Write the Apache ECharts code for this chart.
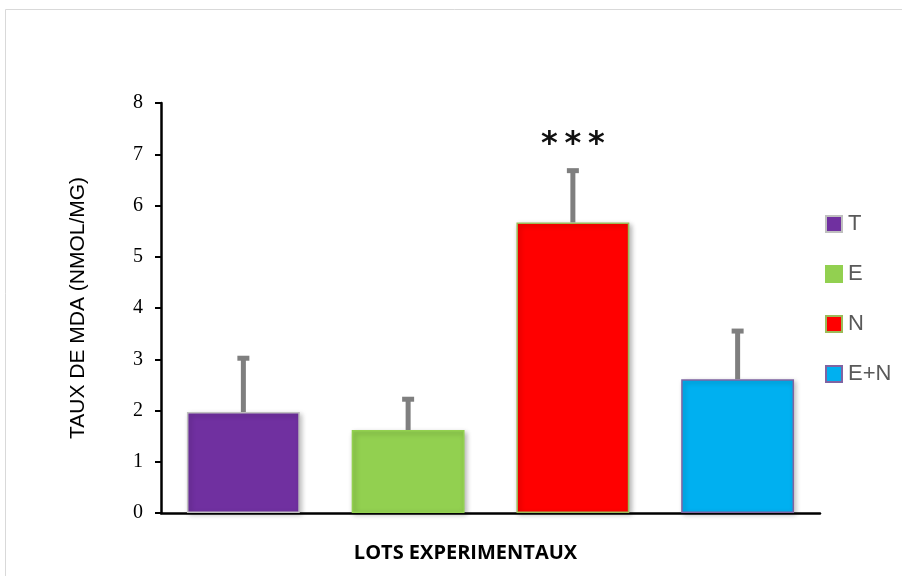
<!DOCTYPE html>
<html>
<head>
<meta charset="utf-8">
<script src="https://cdn.jsdelivr.net/npm/echarts@6/dist/echarts.min.js"></script>
<style>
  html, body { margin: 0; padding: 0; background: #fff; }
  #chart { width: 902px; height: 576px; }
</style>
</head>
<body>
<div id="chart"></div>
<script>
// Experimental groups and MDA levels (nmol/mg), mean ± SEM
var categories = ['T', 'E', 'N', 'E+N'];
var means = [1.97, 1.62, 5.67, 2.61];
var errors = [1.05, 0.60, 1.01, 0.94];
var significance = ['', '', '***', ''];
var yTicks = [0, 1, 2, 3, 4, 5, 6, 7, 8];

var fills = ['#7030a0', '#92d050', '#ff0000', '#00b0f0'];
var borders = ['#bfbfbf', '#92d050', '#9bbb59', '#8064a2'];

var chart = echarts.init(document.getElementById('chart'));

// One bar series per group so every group gets its own legend entry
var barSeries = categories.map(function (name, i) {
  return {
    name: name,
    type: 'bar',
    barWidth: '68.5%',
    barGap: '-100%',
    itemStyle: {
      color: fills[i],
      borderColor: borders[i],
      borderWidth: 1.5,
      shadowBlur: 5,
      shadowColor: 'rgba(0,0,0,0.28)',
      shadowOffsetX: 2,
      shadowOffsetY: 2
    },
    data: categories.map(function (c, j) { return j === i ? means[j] : null; })
  };
});

// Upper error whiskers with the significance marks above them
var errorSeries = {
  type: 'custom',
  name: 'error',
  z: 5,
  data: categories.map(function (c, i) { return [i, means[i], errors[i]]; }),
  encode: { x: 0, y: 1 },
  renderItem: function (params, api) {
    var idx = api.value(0);
    var base = api.coord([idx, api.value(1)]);
    var top = api.coord([idx, api.value(1) + api.value(2)]);
    var capHalf = 6;
    var children = [
      {
        type: 'line',
        shape: { x1: base[0], y1: base[1], x2: top[0], y2: top[1] },
        style: { stroke: '#7f7f7f', lineWidth: 5 }
      },
      {
        type: 'line',
        shape: { x1: top[0] - capHalf, y1: top[1], x2: top[0] + capHalf, y2: top[1] },
        style: { stroke: '#7f7f7f', lineWidth: 5 }
      }
    ];
    var marks = significance[idx].split('');
    var pitch = 23.5;
    marks.forEach(function (ch, k) {
      children.push({
        type: 'text',
        style: {
          text: ch,
          x: top[0] + (k - (marks.length - 1) / 2) * pitch,
          y: top[1] - 26,
          align: 'center',
          verticalAlign: 'middle',
          fontFamily: 'DejaVu Sans',
          fontWeight: 'bold',
          fontSize: 32,
          fill: '#111'
        }
      });
    });
    return { type: 'group', children: children };
  }
};

chart.setOption({
  animation: false,
  backgroundColor: '#fff',
  graphic: [{
    type: 'rect',
    shape: { x: 5.5, y: 9.5, width: 1000, height: 1000 },
    style: { fill: 'none', stroke: '#d9d9d9', lineWidth: 1 },
    silent: true
  }],
  grid: { left: 161, right: 82, top: 103, bottom: 63 },
  legend: {
    orient: 'vertical',
    left: 820,
    top: 208,
    itemWidth: 16,
    itemHeight: 16,
    itemGap: 28,
    icon: 'rect',
    data: categories,
    textStyle: { color: '#595959', fontSize: 22, lineHeight: 22, fontFamily: 'Liberation Sans', padding: [0, 0, 0, 1] }
  },
  xAxis: {
    type: 'category',
    data: categories,
    name: 'LOTS EXPERIMENTAUX',
    nameLocation: 'middle',
    nameGap: 30,
    nameTextStyle: { fontFamily: 'Open Sans', fontWeight: 'bold', fontSize: 20, color: '#000', padding: [0, 50, 0, 0] },
    axisLine: { lineStyle: { color: '#000', width: 2.5 } },
    axisTick: { show: false },
    axisLabel: { show: false }
  },
  yAxis: {
    type: 'value',
    min: yTicks[0],
    max: yTicks[yTicks.length - 1],
    interval: 1,
    name: 'TAUX DE MDA (NMOL/MG)',
    nameLocation: 'middle',
    nameRotate: 90,
    nameGap: 72,
    nameTextStyle: { fontFamily: 'Liberation Sans', fontSize: 21, color: '#000' },
    axisLine: { show: true, lineStyle: { color: '#000', width: 2.5 } },
    axisTick: { show: true, length: 6, lineStyle: { color: '#000', width: 2 } },
    axisLabel: { margin: 18, fontFamily: 'Liberation Serif', fontSize: 20, color: '#000' },
    splitLine: { show: false }
  },
  series: barSeries.concat([errorSeries])
});
</script>
</body>
</html>
